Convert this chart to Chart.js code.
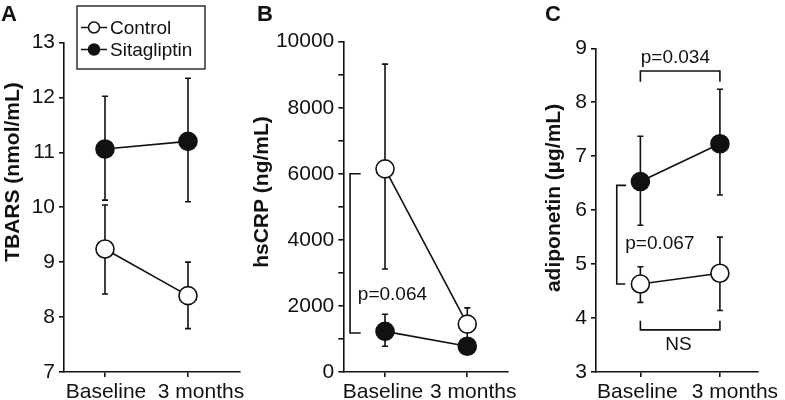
<!DOCTYPE html>
<html>
<head>
<meta charset="utf-8">
<script src="https://cdn.jsdelivr.net/npm/chart.js@4.4.1/dist/chart.umd.min.js"></script>
<style>
  html, body { margin: 0; padding: 0; background: #fff; }
  #wrap { position: relative; width: 785px; height: 400px; overflow: hidden; }
  canvas { position: absolute; top: 0; }
</style>
</head>
<body>
<div id="wrap">
  <canvas id="panelA" width="248" height="400" style="left:0px"></canvas>
  <canvas id="panelB" width="272" height="400" style="left:248px"></canvas>
  <canvas id="panelC" width="265" height="400" style="left:520px"></canvas>
</div>
<script>
const timepoints = ['Baseline', '3 months']
const seriesNames = ['Control', 'Sitagliptin']

// A: TBARS (nmol/mL)
const tbarsControl = [9.24, 8.39]
const tbarsControlLow = [8.42, 7.79]
const tbarsControlHigh = [10.04, 9.0]
const tbarsSita = [11.06, 11.2]
const tbarsSitaLow = [10.13, 10.1]
const tbarsSitaHigh = [12.02, 12.35]

// B: hsCRP (ng/mL)
const crpControl = [6150, 1450]
const crpControlLow = [3120, 1000]
const crpControlHigh = [9320, 1940]
const crpSita = [1230, 780]
const crpSitaLow = [780, 540]
const crpSitaHigh = [1750, 1020]

// C: adiponetin (µg/mL)
const adipoControl = [4.63, 4.83]
const adipoControlLow = [4.29, 4.14]
const adipoControlHigh = [4.95, 5.5]
const adipoSita = [6.53, 7.23]
const adipoSitaLow = [5.72, 6.28]
const adipoSitaHigh = [7.37, 8.24]

const INK = '#111'
const FONT = '"Liberation Sans", Arial, Helvetica, sans-serif'

const toXY = vals => vals.map((v, i) => ({x: i, y: v}))

const errorBars = {
  id: 'errorBars',
  beforeDatasetsDraw(chart) {
    const {ctx, scales: {x, y}} = chart
    ctx.save()
    ctx.strokeStyle = INK
    ctx.lineWidth = 1.6
    chart.data.datasets.forEach(ds => {
      ds.data.forEach((p, i) => {
        const px = x.getPixelForValue(p.x)
        const lo = y.getPixelForValue(ds.errLow[i])
        const hi = y.getPixelForValue(ds.errHigh[i])
        ctx.beginPath()
        ctx.moveTo(px, lo); ctx.lineTo(px, hi)
        ctx.moveTo(px - 3, lo); ctx.lineTo(px + 3, lo)
        ctx.moveTo(px - 3, hi); ctx.lineTo(px + 3, hi)
        ctx.stroke()
      })
    })
    ctx.restore()
  }
}

const decorations = {
  id: 'decorations',
  afterDraw(chart) {
    const {ctx, scales: {x, y}} = chart
    const o = chart.options.plugins.decorations
    ctx.save()
    ctx.fillStyle = INK
    ctx.strokeStyle = INK

    // panel letter
    ctx.font = 'bold 22px ' + FONT
    ctx.textAlign = 'left'
    ctx.textBaseline = 'alphabetic'
    ctx.fillText(o.letter, o.letterX, 21)

    // x labels (the "3 months" label sits right of its tick in the original)
    ctx.font = '21px ' + FONT
    ctx.textAlign = 'center'
    timepoints.forEach((t, i) => {
      ctx.fillText(t, x.getPixelForValue(i) + o.labelShift[i], 398)
    })

    // y axis title
    ctx.save()
    ctx.translate(o.titleX, o.titleY)
    ctx.rotate(-Math.PI / 2)
    ctx.font = 'bold 21px ' + FONT
    ctx.textAlign = 'center'
    ctx.textBaseline = 'middle'
    ctx.fillText(o.title, 0, 0)
    ctx.restore()

    // brackets, in data units
    ctx.lineWidth = 1.6
    ;(o.brackets || []).forEach(b => {
      ctx.beginPath()
      b.forEach(([bx, by], i) => {
        const px = x.getPixelForValue(bx), py = y.getPixelForValue(by)
        i ? ctx.lineTo(px, py) : ctx.moveTo(px, py)
      })
      ctx.stroke()
    })
    ctx.font = '19px ' + FONT
    ctx.textBaseline = 'alphabetic'
    ;(o.notes || []).forEach(n => {
      ctx.textAlign = n.align
      ctx.fillText(n.text, x.getPixelForValue(n.x), y.getPixelForValue(n.y))
    })

    // legend box
    if (o.legend) {
      const L = o.legend
      ctx.lineWidth = 1.3
      ctx.strokeRect(L.left, L.top, L.width, L.height)
      ctx.font = '19px ' + FONT
      ctx.textAlign = 'left'
      ctx.textBaseline = 'middle'
      chart.data.datasets.forEach((ds, i) => {
        const cy = L.rows[i]
        ctx.lineWidth = 1.5
        ctx.beginPath()
        ctx.moveTo(L.left + 4, cy); ctx.lineTo(L.left + 30, cy)
        ctx.stroke()
        ctx.beginPath()
        ctx.arc(L.left + 17, cy, 5.5, 0, Math.PI * 2)
        ctx.fillStyle = ds.pointBackgroundColor
        ctx.fill()
        ctx.stroke()
        ctx.fillStyle = INK
        ctx.fillText(ds.label, L.left + 33, cy + 1)
      })
    }
    ctx.restore()
  }
}

function series(label, vals, low, high, fill) {
  return {
    label: label,
    data: toXY(vals),
    errLow: low,
    errHigh: high,
    borderColor: INK,
    borderWidth: 1.6,
    pointRadius: 9,
    pointBorderWidth: 1.6,
    pointBorderColor: INK,
    pointBackgroundColor: fill,
    clip: false
  }
}

function makePanel(id, p) {
  const axisGrid = {drawOnChartArea: false, drawTicks: true, tickLength: 5, color: INK, lineWidth: 1.6}
  const axisBorder = {display: true, color: INK, width: 1.6}
  const tickFont = {family: FONT, size: 21}
  return new Chart(document.getElementById(id), {
    type: 'line',
    data: {
      datasets: [
        series(seriesNames[0], p.control, p.controlLow, p.controlHigh, '#fff'),
        series(seriesNames[1], p.sita, p.sitaLow, p.sitaHigh, INK)
      ]
    },
    options: {
      responsive: false,
      animation: false,
      events: [],
      layout: {autoPadding: false, padding: {top: p.top, right: p.right, left: 0, bottom: 0}},
      plugins: {
        legend: {display: false},
        tooltip: {enabled: false},
        decorations: p.deco
      },
      scales: {
        x: {
          type: 'linear',
          min: p.xMin,
          max: p.xMax,
          afterBuildTicks: s => { s.ticks = timepoints.map((t, i) => ({value: i})) },
          afterFit: s => { s.height = 28 },
          ticks: {
            autoSkip: false, maxRotation: 0, padding: 2, color: 'rgba(0,0,0,0)', font: tickFont,
            callback: v => timepoints[v]
          },
          grid: axisGrid,
          border: axisBorder
        },
        y: {
          min: p.yMin,
          max: p.yMax,
          afterFit: s => { s.width = p.axisLeft },
          ticks: {
            stepSize: p.minorStep, padding: 4, color: INK, font: tickFont,
            callback: v => (Math.abs(v / p.majorStep - Math.round(v / p.majorStep)) < 1e-6 ? String(v) : '')
          },
          grid: axisGrid,
          border: axisBorder
        }
      }
    },
    plugins: [errorBars, decorations]
  })
}

makePanel('panelA', {
  control: tbarsControl, controlLow: tbarsControlLow, controlHigh: tbarsControlHigh,
  sita: tbarsSita, sitaLow: tbarsSitaLow, sitaHigh: tbarsSitaHigh,
  yMin: 7, yMax: 13, minorStep: 0.5, majorStep: 1,
  xMin: -0.494, xMax: 1.627,
  top: 42.5, right: 8, axisLeft: 64,
  deco: {
    letter: 'A', letterX: 1, title: 'TBARS (nmol/mL)', titleX: 13, titleY: 172,
    labelShift: [1, 13],
    legend: {left: 77, top: 6, width: 128, height: 63, rows: [27.5, 49.5]}
  }
})

makePanel('panelB', {
  control: crpControl, controlLow: crpControlLow, controlHigh: crpControlHigh,
  sita: crpSita, sitaLow: crpSitaLow, sitaHigh: crpSitaHigh,
  yMin: 0, yMax: 10000, minorStep: 1000, majorStep: 2000,
  xMin: -0.507, xMax: 1.495,
  top: 41.7, right: 12, axisLeft: 95.3,
  deco: {
    letter: 'B', letterX: 9, title: 'hsCRP (ng/mL)', titleX: 14, titleY: 192,
    labelShift: [-2, 6],
    brackets: [[[-0.296, 6000], [-0.425, 6000], [-0.425, 1180], [-0.296, 1180]]],
    notes: [{text: 'p=0.064', x: -0.33, y: 2185, align: 'left'}]
  }
})

makePanel('panelC', {
  control: adipoControl, controlLow: adipoControlLow, controlHigh: adipoControlHigh,
  sita: adipoSita, sitaLow: adipoSitaLow, sitaHigh: adipoSitaHigh,
  yMin: 3, yMax: 9, minorStep: 0.5, majorStep: 1,
  xMin: -0.558, xMax: 1.47,
  top: 48.3, right: 27.7, axisLeft: 76,
  deco: {
    letter: 'C', letterX: 25, title: 'adiponetin (\u00b5g/mL)', titleX: 34, titleY: 198,
    labelShift: [-3, 15],
    brackets: [
      [[0, 8.38], [0, 8.58], [1, 8.58], [1, 8.38]],
      [[-0.18, 6.46], [-0.297, 6.46], [-0.297, 4.63], [-0.19, 4.63]],
      [[0, 3.95], [0, 3.78], [1, 3.78], [1, 3.95]]
    ],
    notes: [
      {text: 'p=0.034', x: 0.44, y: 8.72, align: 'center'},
      {text: 'p=0.067', x: -0.19, y: 5.28, align: 'left'},
      {text: 'NS', x: 0.48, y: 3.41, align: 'center'}
    ]
  }
})
</script>
</body>
</html>
